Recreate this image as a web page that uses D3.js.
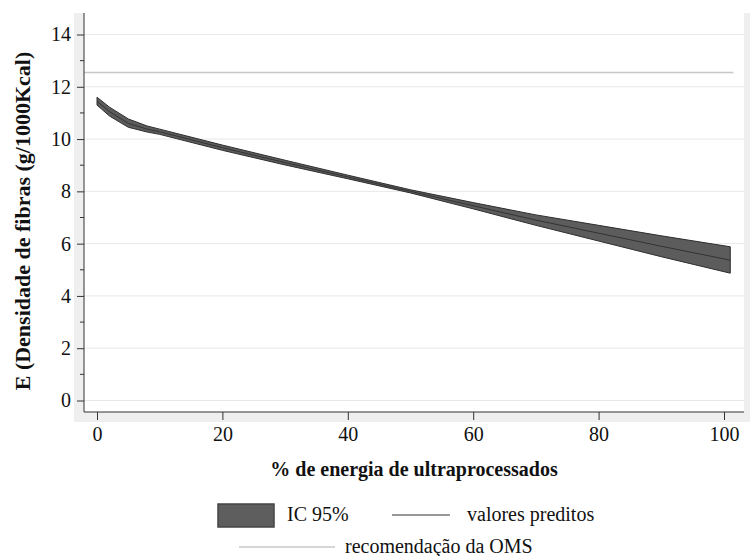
<!DOCTYPE html>
<html>
<head>
<meta charset="utf-8">
<script src="https://cdn.jsdelivr.net/npm/d3@7"></script>
<style>
  body { margin: 0; background: #fff; }
  svg text { font-family: "Liberation Serif", "DejaVu Serif", serif; fill: #111; }
</style>
</head>
<body>
<div id="chart"></div>
<script>
// dati
const pctUltra   = [0, 2, 5, 8, 10, 20, 30, 40, 50, 60, 70, 80, 90, 101];
const predetti   = [11.45, 11.05, 10.6, 10.38, 10.28, 9.67, 9.1, 8.55, 8.0, 7.45, 6.9, 6.4, 5.9, 5.37];
const icInf      = [11.3, 10.88, 10.45, 10.27, 10.18, 9.57, 9.01, 8.48, 7.94, 7.33, 6.7, 6.1, 5.5, 4.87];
const icSup      = [11.6, 11.22, 10.77, 10.5, 10.38, 9.77, 9.19, 8.62, 8.06, 7.57, 7.1, 6.7, 6.3, 5.88];
const oms        = 12.55;
const yTicks     = [0, 2, 4, 6, 8, 10, 12, 14];
const yMinor     = [1, 3, 5, 7, 9, 11, 13];
const xTicks     = [0, 20, 40, 60, 80, 100];

const W = 752, H = 556;
const plot = {left: 84, right: 744, top: 13, bottom: 412};
const serif = '"Liberation Serif", "DejaVu Serif", serif';

const svg = d3.select("#chart").append("svg")
  .attr("width", W).attr("height", H);

// cornice grigia stile Stata
svg.append("rect")
  .attr("x", 74).attr("y", plot.top)
  .attr("width", 676).attr("height", 422 - plot.top)
  .attr("fill", "#efefef");
svg.append("rect")
  .attr("x", plot.left).attr("y", plot.top)
  .attr("width", plot.right - plot.left).attr("height", plot.bottom - plot.top)
  .attr("fill", "#fff");

const x = d3.scaleLinear().domain([0, 100]).range([97, 724]);
const y = d3.scaleLinear().domain([0, 14]).range([400.5, 34.5]);

// griglia
svg.append("g").selectAll("line")
  .data(yTicks).enter().append("line")
  .attr("x1", plot.left).attr("x2", plot.right)
  .attr("y1", d => y(d)).attr("y2", d => y(d))
  .attr("stroke", "#e8e8e8").attr("stroke-width", 1);

// raccomandazione OMS
svg.append("line")
  .attr("x1", plot.left).attr("x2", x(101.5))
  .attr("y1", y(oms)).attr("y2", y(oms))
  .attr("stroke", "#c8c8c8").attr("stroke-width", 1.5);

// banda IC 95%
const banda = pctUltra.map((p, i) => ({p: p, lo: icInf[i], hi: icSup[i], v: predetti[i]}));
svg.append("path")
  .datum(banda)
  .attr("fill", "#5c5c5c")
  .attr("stroke", "#2e2e2e")
  .attr("stroke-width", 1)
  .attr("d", d3.area()
    .x(d => x(d.p))
    .y0(d => y(d.lo))
    .y1(d => y(d.hi)));

// valori predetti
svg.append("path")
  .datum(banda)
  .attr("fill", "none")
  .attr("stroke", "#333")
  .attr("stroke-width", 1)
  .attr("d", d3.line()
    .x(d => x(d.p))
    .y(d => y(d.v)));

// assi
const yAxis = svg.append("g")
  .attr("transform", "translate(" + plot.left + ",0)")
  .call(d3.axisLeft(y).tickValues(yTicks).tickSize(7).tickPadding(6));
yAxis.attr("font-family", serif);
yAxis.select(".domain").attr("d", "M0," + plot.top + "V" + plot.bottom).attr("stroke", "#333");
yAxis.selectAll(".tick line").attr("stroke", "#333");
yAxis.selectAll("text").attr("font-size", 20).style("font-family", serif);
svg.append("g").selectAll("line")
  .data(yMinor).enter().append("line")
  .attr("x1", plot.left - 4).attr("x2", plot.left)
  .attr("y1", d => y(d)).attr("y2", d => y(d))
  .attr("stroke", "#333");

const xAxis = svg.append("g")
  .attr("transform", "translate(0," + plot.bottom + ")")
  .call(d3.axisBottom(x).tickValues(xTicks).tickSize(8).tickPadding(7));
xAxis.attr("font-family", serif);
xAxis.select(".domain").attr("d", "M" + plot.left + ",0H" + plot.right).attr("stroke", "#333");
xAxis.selectAll(".tick line").attr("stroke", "#333");
xAxis.selectAll("text").attr("font-size", 20).style("font-family", serif);

// titoli assi
svg.append("text")
  .attr("x", 414).attr("y", 476)
  .attr("text-anchor", "middle")
  .attr("font-size", 20).attr("font-weight", "bold")
  .text("% de energia de ultraprocessados");
svg.append("text")
  .attr("transform", "translate(30,221) rotate(-90)")
  .attr("text-anchor", "middle")
  .attr("font-size", 22).attr("font-weight", "bold")
  .text("E (Densidade de fibras (g/1000Kcal)");

// legenda
const leg = svg.append("g");
leg.append("rect")
  .attr("x", 218).attr("y", 504).attr("width", 56).attr("height", 23)
  .attr("fill", "#5e5e5e").attr("stroke", "#444").attr("stroke-width", 1.5);
leg.append("text").attr("x", 287).attr("y", 521).attr("font-size", 20).text("IC 95%");
leg.append("line")
  .attr("x1", 392).attr("x2", 450).attr("y1", 515).attr("y2", 515)
  .attr("stroke", "#333").attr("stroke-width", 1);
leg.append("text").attr("x", 467).attr("y", 521).attr("font-size", 20).text("valores preditos");
leg.append("line")
  .attr("x1", 239).attr("x2", 335).attr("y1", 547).attr("y2", 547)
  .attr("stroke", "#c8c8c8").attr("stroke-width", 1.5);
leg.append("text").attr("x", 345).attr("y", 553).attr("font-size", 20).text("recomendação da OMS");
</script>
</body>
</html>
